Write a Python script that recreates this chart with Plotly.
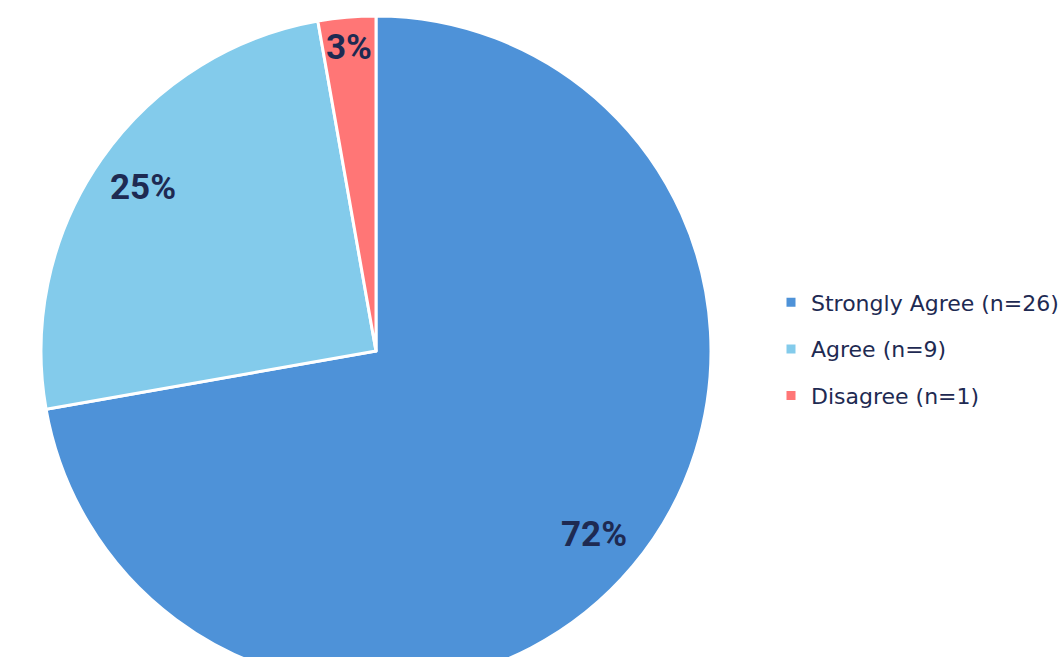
import math
import plotly.graph_objects as go

# ---- data ----
categories = ["Strongly Agree (n=26)", "Agree (n=9)", "Disagree (n=1)"]
counts = [26, 9, 1]
colors = ["#4E92D8", "#83CBEB", "#FF7676"]
label_radius = [0.85, 0.85, 0.91]   # fraction of pie radius where the % labels sit

# ---- layout geometry (pixels) ----
W, H = 1059, 700
cx, cy, R = 376, 351, 335
TEXT = "#1E2A52"

fig = go.Figure()
fig.add_trace(go.Pie(
    labels=categories, values=counts, sort=False,
    direction="clockwise", rotation=0,
    marker=dict(colors=colors, line=dict(color="white", width=3)),
    textinfo="none", hoverinfo="label+percent", showlegend=False,
    domain=dict(x=[(cx - R) / W, (cx + R) / W],
                y=[1 - (cy + R) / H, 1 - (cy - R) / H]),
))

# legend entries (library legend, via marker-only traces)
for i, (name, col) in enumerate(zip(categories, colors)):
    fig.add_trace(go.Scatter(
        x=[None], y=[None], mode="markers", name=name,
        legendgroup=f"g{i}",
        marker=dict(symbol="square", size=9, color=col),
    ))

# percentage labels placed at slice mid-angles
total = sum(counts)
cum = 0
annotations = []
for v, rf in zip(counts, label_radius):
    mid = (cum + v / 2) / total * 2 * math.pi
    cum += v
    px = cx + rf * R * math.sin(mid)
    py = cy - rf * R * math.cos(mid)
    annotations.append(dict(
        x=px / W, y=1 - py / H, xref="paper", yref="paper",
        text=f"<b>{round(100 * v / total)}%</b>", showarrow=False,
        font=dict(family="Roboto", size=35, color=TEXT),
        xanchor="center", yanchor="middle",
    ))

fig.update_layout(
    width=W, height=H,
    margin=dict(l=0, r=0, t=0, b=0, autoexpand=False),
    paper_bgcolor="white", plot_bgcolor="white",
    xaxis=dict(visible=False), yaxis=dict(visible=False),
    showlegend=True,
    legend=dict(
        x=(811 - 40) / W, y=1 - 349 / H, xanchor="left", yanchor="middle",
        font=dict(family="DejaVu Sans", size=22, color=TEXT),
        traceorder="grouped", tracegroupgap=15,
        bgcolor="rgba(0,0,0,0)",
    ),
    annotations=annotations,
)

fig.write_html(
    "out.html",
    config={"displayModeBar": False},
    post_script="document.body.style.margin='0';document.body.style.overflow='hidden';",
)
